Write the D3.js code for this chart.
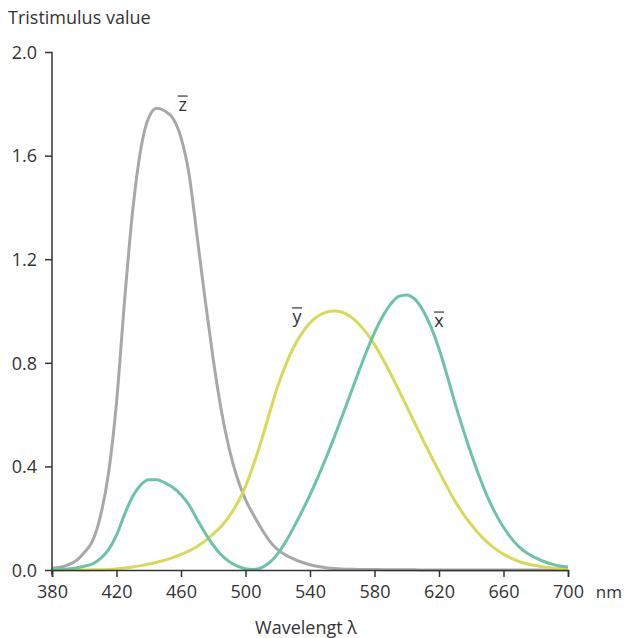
<!DOCTYPE html>
<html>
<head>
<meta charset="utf-8">
<script src="https://cdn.jsdelivr.net/npm/d3@7/dist/d3.min.js"></script>
<style>
  body { margin: 0; background: #fff; }
  text { font-family: "Open Sans", "Noto Sans", sans-serif; fill: #333; }
</style>
</head>
<body>
<svg id="chart" width="625" height="638"></svg>
<script>
// wavelength samples (nm), every 5 nm
const wavelengths = d3.range(380, 701, 5);

const xBar = [0.0014, 0.0022, 0.0042, 0.0077, 0.0143, 0.0232, 0.0435, 0.0776, 0.1344, 0.2148,
  0.2839, 0.3285, 0.3483, 0.3481, 0.3362, 0.3187, 0.2908, 0.2511, 0.1954, 0.1421,
  0.0956, 0.0580, 0.0320, 0.0147, 0.0049, 0.0024, 0.0093, 0.0291, 0.0633, 0.1096,
  0.1655, 0.2258, 0.2904, 0.3597, 0.4335, 0.5121, 0.5945, 0.6784, 0.7621, 0.8425,
  0.9163, 0.9786, 1.0263, 1.0567, 1.0622, 1.0456, 1.0026, 0.9384, 0.8545, 0.7514,
  0.6424, 0.5419, 0.4479, 0.3608, 0.2835, 0.2187, 0.1649, 0.1212, 0.0874, 0.0636,
  0.0468, 0.0329, 0.0227, 0.0158, 0.0114];

const yBar = [0.0000, 0.0001, 0.0001, 0.0002, 0.0004, 0.0006, 0.0012, 0.0022, 0.0040, 0.0073,
  0.0116, 0.0168, 0.0230, 0.0298, 0.0380, 0.0480, 0.0600, 0.0739, 0.0910, 0.1126,
  0.1390, 0.1693, 0.2080, 0.2586, 0.3230, 0.4073, 0.5030, 0.6082, 0.7100, 0.7932,
  0.8620, 0.9149, 0.9540, 0.9803, 0.9950, 1.0000, 0.9950, 0.9786, 0.9520, 0.9154,
  0.8700, 0.8163, 0.7570, 0.6949, 0.6310, 0.5668, 0.5030, 0.4412, 0.3810, 0.3210,
  0.2650, 0.2170, 0.1750, 0.1382, 0.1070, 0.0816, 0.0610, 0.0446, 0.0320, 0.0232,
  0.0170, 0.0119, 0.0082, 0.0057, 0.0041];

const zBar = [0.0065, 0.0106, 0.0201, 0.0362, 0.0679, 0.1102, 0.2074, 0.3713, 0.6456, 1.0391,
  1.3856, 1.6230, 1.7471, 1.7826, 1.7721, 1.7441, 1.6692, 1.5281, 1.2876, 1.0419,
  0.8130, 0.6162, 0.4652, 0.3533, 0.2720, 0.2123, 0.1582, 0.1117, 0.0783, 0.0573,
  0.0422, 0.0298, 0.0203, 0.0134, 0.0088, 0.0058, 0.0039, 0.0028, 0.0021, 0.0018,
  0.0017, 0.0014, 0.0011, 0.0010, 0.0008, 0.0006, 0.0003, 0.0002, 0.0002, 0.0001,
  0.0001, 0.0000, 0.0000, 0.0000, 0.0000, 0.0000, 0.0000, 0.0000, 0.0000, 0.0000,
  0.0000, 0.0000, 0.0000, 0.0000, 0.0000];

const xTicks = [380, 420, 460, 500, 540, 580, 620, 660, 700];
const yTicks = [0, 0.4, 0.8, 1.2, 1.6, 2.0];

// label anchors are in data units (wavelength, value) at the letter baseline
const series = [
  {name: "z", values: zBar, color: "#a8a8a8", labelAt: [461, 1.772]},
  {name: "y", values: yBar, color: "#d9d858", labelAt: [532, 0.954]},
  {name: "x", values: xBar, color: "#6cc4a3", labelAt: [620, 0.938]}
];

const svg = d3.select("#chart");

const x = d3.scaleLinear().domain([380, 700]).range([52, 568]);
const y = d3.scaleLinear().domain([0, 2]).range([570, 52]);

const line = d3.line()
  .x(d => x(d[0]))
  .y(d => y(d[1]))
  .curve(d3.curveMonotoneX);

// curves
svg.selectAll(".curve")
  .data(series)
  .join("path")
  .attr("class", "curve")
  .attr("fill", "none")
  .attr("stroke", d => d.color)
  .attr("stroke-width", 3)
  .attr("stroke-linejoin", "round")
  .attr("d", d => line(wavelengths.map((w, i) => [w, d.values[i]])));

// axes
const xAxis = svg.append("g")
  .attr("transform", `translate(0,${y(0)})`)
  .call(d3.axisBottom(x).tickValues(xTicks).tickFormat(d3.format("d")).tickSizeOuter(0).tickSize(7));

const yAxis = svg.append("g")
  .attr("transform", `translate(${x(380)},0)`)
  .call(d3.axisLeft(y).tickValues(yTicks).tickFormat(d3.format(".1f")).tickSizeOuter(0).tickSize(7));

[xAxis, yAxis].forEach(g => {
  g.select(".domain").attr("stroke", "#333").attr("stroke-width", 1.5);
  g.selectAll(".tick line").attr("stroke", "#333").attr("stroke-width", 1.5);
  g.selectAll(".tick text").attr("font-family", null).style("font-size", "18px").attr("fill", "#333");
});
xAxis.selectAll(".tick text").attr("dy", "1.0em");
yAxis.selectAll(".tick text").attr("x", -15).attr("dy", "0.35em");
// y axis extends slightly below the zero line
yAxis.select(".domain").attr("d", `M0,${y(2)}V${y(0) + 5}`);

// axis titles
svg.append("text")
  .attr("x", 8).attr("y", 24)
  .style("font-size", "18px")
  .text("Tristimulus value");

svg.append("text")
  .attr("x", 622).attr("y", 598)
  .attr("text-anchor", "end")
  .style("font-size", "17px")
  .text("nm");

svg.append("text")
  .attr("x", 306).attr("y", 634)
  .attr("text-anchor", "middle")
  .style("font-size", "18px")
  .text("Wavelengt \u03bb");

// curve labels with overbar
const labels = svg.selectAll(".clabel")
  .data(series)
  .join("g")
  .attr("class", "clabel")
  .attr("transform", d => `translate(${x(d.labelAt[0])},${y(d.labelAt[1])})`);

labels.append("text")
  .attr("text-anchor", "middle")
  .style("font-size", "18px")
  .text(d => d.name);

labels.append("line")
  .attr("x1", -5).attr("x2", 5)
  .attr("y1", -15).attr("y2", -15)
  .attr("stroke", "#333")
  .attr("stroke-width", 1.2);
</script>
</body>
</html>
